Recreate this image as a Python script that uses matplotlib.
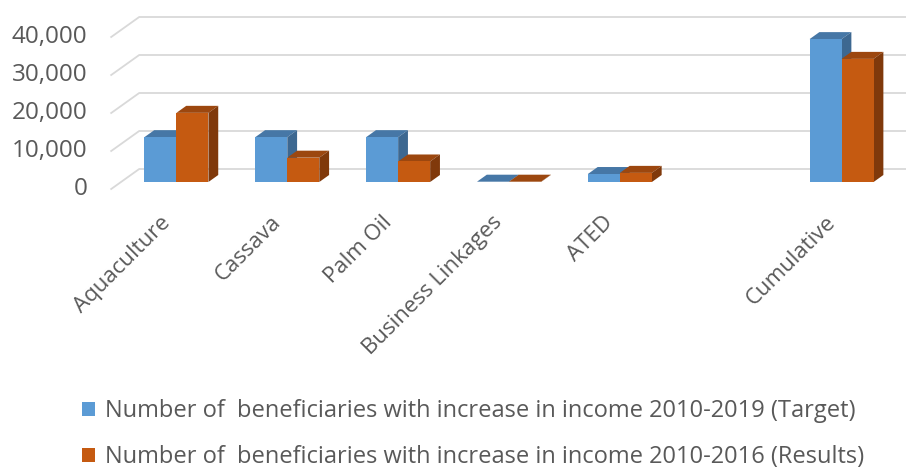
import numpy as np
import matplotlib.pyplot as plt
from matplotlib.patches import Patch, Polygon
from matplotlib import transforms

categories = ["Aquaculture", "Cassava", "Palm Oil", "Business Linkages", "ATED", "", "Cumulative"]
target = [11800, 11800, 11800, 80, 2100, 0, 37600]
results = [18200, 6400, 5400, 80, 2400, 0, 32400]
yticks = [0, 10000, 20000, 30000, 40000]
series_names = [
    "Number of  beneficiaries with increase in income 2010-2019 (Target)",
    "Number of  beneficiaries with increase in income 2010-2016 (Results)",
]

front_colors = ["#5B9BD5", "#C55A11"]
top_colors = ["#4677A6", "#9C470F"]
side_colors = ["#3D6891", "#80390B"]
text_color = "#595959"
grid_color = "#D9D9D9"

fig = plt.figure(figsize=(9.06, 4.68), dpi=100)
ax = fig.add_axes([121 / 906, 286 / 468, 776 / 906, 152 / 468])
ax.set_xlim(-0.5, len(categories) - 0.5)
ax.set_ylim(0, 40000)
ax.axis("off")

# pixel -> data conversion for the fake 3D depth
px_x = 776 / len(categories)
px_y = 152 / 40000
wall_dx, wall_dy = 28, 20          # full depth of the floor in pixels
bar_front = 0.35                    # bars sit between 35% and 70% of the depth
bar_dx, bar_dy = 0.35 * wall_dx / px_x, 0.35 * wall_dy / px_y
front_dx, front_dy = -bar_front * wall_dx / px_x, -bar_front * wall_dy / px_y
back_dx, back_dy = (1 - bar_front) * wall_dx / px_x, (1 - bar_front) * wall_dy / px_y

x0 = -0.5
tick_tr = transforms.offset_copy(ax.transData, fig, x=-24, y=0, units="dots")
for v in yticks:
    # back wall line plus the diagonal on the side wall
    ax.plot([x0 + front_dx, x0 + back_dx, 7.5], [v + front_dy, v + back_dy, v + back_dy],
            color=grid_color, lw=1.3, clip_on=False, zorder=0)
    ax.text(x0 + front_dx, v + front_dy, f"{v:,}", ha="right", va="center",
            fontsize=17.5, color=text_color, family="Open Sans", transform=tick_tr)

x = np.arange(len(categories))
w = 32 / px_x
for s, vals in enumerate([target, results]):
    lefts = x - w + s * w
    for xi, xl, v in zip(x, lefts, vals):
        if categories[xi] == "":
            continue
        xr = xl + w
        ax.add_patch(Polygon([(xl, v), (xr, v), (xr + bar_dx, v + bar_dy), (xl + bar_dx, v + bar_dy)],
                             closed=True, facecolor=top_colors[s], edgecolor="none", zorder=2 + s, clip_on=False))
        ax.add_patch(Polygon([(xr, 0), (xr, v), (xr + bar_dx, v + bar_dy), (xr + bar_dx, bar_dy)],
                             closed=True, facecolor=side_colors[s], edgecolor="none", zorder=2 + s, clip_on=False))
    ax.bar(lefts, vals, width=w, align="edge", color=front_colors[s], zorder=2 + s, clip_on=False)

label_tr = transforms.offset_copy(ax.transData, fig, x=-17, y=-30, units="dots")
for xi, name in zip(x, categories):
    ax.text(xi, 0, name, rotation=45, rotation_mode="anchor", ha="right", va="top",
            fontsize=16, color=text_color, family="Open Sans", transform=label_tr)

handles = [Patch(facecolor=c, edgecolor="none") for c in front_colors]
fig.legend(handles, series_names, loc="upper left", bbox_to_anchor=(61 / 906, 1 - 378 / 468),
           frameon=False, labelcolor=text_color, handlelength=0.55, handleheight=0.55,
           handletextpad=0.42, labelspacing=0.93, prop={"family": "Open Sans", "size": 17})

fig.savefig("out.png", dpi=100)
